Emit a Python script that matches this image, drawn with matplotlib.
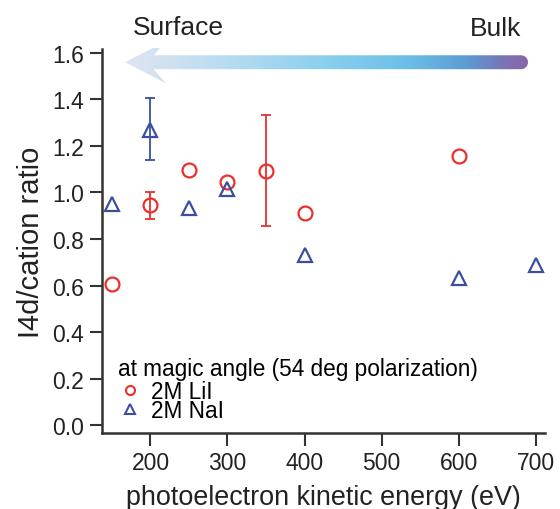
import numpy as np
import matplotlib.pyplot as plt
from matplotlib.colors import LinearSegmentedColormap
from matplotlib.patches import Polygon
from matplotlib.lines import Line2D

plt.rcParams['font.family'] = ['Liberation Sans', 'DejaVu Sans']

# 2M LiI
ke_lii = np.array([150, 200, 250, 300, 350, 400, 600])
ratio_lii = np.array([0.605, 0.945, 1.095, 1.045, 1.093, 0.912, 1.157])
err_lo_lii = np.array([0, 0.06, 0, 0, 0.238, 0, 0])
err_hi_lii = np.array([0, 0.055, 0, 0, 0.24, 0, 0])

# 2M NaI
ke_nai = np.array([150, 200, 250, 300, 400, 600, 700])
ratio_nai = np.array([0.952, 1.27, 0.935, 1.015, 0.732, 0.632, 0.69])
err_lo_nai = np.array([0, 0.132, 0, 0, 0, 0, 0])
err_hi_nai = np.array([0, 0.135, 0, 0, 0, 0, 0])

yticks = [0.0, 0.2, 0.4, 0.6, 0.8, 1.0, 1.2, 1.4, 1.6]
xticks = [200, 300, 400, 500, 600, 700]

red = '#e8302c'
blue = '#3c4ea0'
axcol = '#333333'
txtcol = '#222222'

fig = plt.figure(figsize=(5.6, 5.1), dpi=100)
ax = fig.add_axes([0.182, 0.149, 0.791, 0.753])


def draw_series(x, y, lo, hi, marker, color):
    m = (lo > 0) | (hi > 0)
    ax.errorbar(x[m], y[m], yerr=[lo[m], hi[m]], fmt='none', ecolor=color,
                elinewidth=1.3, capsize=3.5, capthick=1.3)
    ax.plot(x, y, ls='none', marker=marker, ms=10, mfc='none', mec=color, mew=1.6)


draw_series(ke_lii, ratio_lii, err_lo_lii, err_hi_lii, 'o', red)
draw_series(ke_nai, ratio_nai, err_lo_nai, err_hi_nai, '^', blue)

ax.set_xlim(137, 712)
ax.set_ylim(-0.034, 1.617)
ax.set_xticks(xticks)
ax.set_yticks(yticks)
ax.set_yticklabels(['%.1f' % v for v in yticks])
ax.tick_params(direction='out', length=9, width=1.5, color=axcol,
               labelsize=16.5, labelcolor=txtcol, pad=4)
for s in ['top', 'right']:
    ax.spines[s].set_visible(False)
for s in ['left', 'bottom']:
    ax.spines[s].set_linewidth(1.8)
    ax.spines[s].set_color(axcol)

ax.set_xlabel('photoelectron kinetic energy (eV)', fontsize=19.4, color=txtcol, labelpad=7)
ax.set_ylabel('I4d/cation ratio', fontsize=21, color=txtcol, labelpad=5)

handles = [Line2D([], [], ls='none', marker='o', ms=6.5, mfc='none', mec=red, mew=1.5),
           Line2D([], [], ls='none', marker='^', ms=6.5, mfc='none', mec=blue, mew=1.5)]
leg = ax.legend(handles, ['2M LiI', '2M NaI'], loc='lower left',
                bbox_to_anchor=(0.0, -0.013), frameon=False,
                fontsize=16.3, handlelength=1.1, handletextpad=0.35,
                borderaxespad=0.3, labelspacing=-0.15,
                title='at magic angle (54 deg polarization)', title_fontsize=16.3)
leg._legend_box.align = 'left'
leg._legend_box.sep = 0

# gradient arrow, surface <- bulk
yc = 1.56
tip, barb, notch, end = 167, 220, 204, 681
hh, sh = 0.09, 0.03
rx = 9.1
theta = np.linspace(np.pi / 2, -np.pi / 2, 20)
cap = [(end + rx * np.cos(t), yc + sh * np.sin(t)) for t in theta]
verts = [(tip, yc), (barb, yc + hh), (notch, yc + sh)] + cap + \
        [(notch, yc - sh), (barb, yc - hh)]
poly = Polygon(verts, closed=True, facecolor='none', edgecolor='none',
               transform=ax.transData)
ax.add_patch(poly)
cmap = LinearSegmentedColormap.from_list('sb', [
    (0.0, '#e0e5ef'), (0.25, '#b8dcf1'), (0.5, '#8acfee'), (0.7, '#6cbfe8'),
    (0.85, '#5c9bd3'), (0.93, '#7479b8'), (1.0, '#8b64aa')])
grad = np.linspace(0, 1, 256).reshape(1, -1)
im = ax.imshow(grad, cmap=cmap, aspect='auto', extent=[tip, end + rx, yc - hh, yc + hh],
               zorder=3, interpolation='bilinear')
im.set_clip_path(poly)
im.set_clip_box(None)
ax.set_xlim(137, 712)
ax.set_ylim(-0.034, 1.617)

ax.text(177, 1.712, 'Surface', fontsize=19, color=txtcol, ha='left', va='center',
        clip_on=False)
ax.text(681, 1.707, 'Bulk', fontsize=19, color=txtcol, ha='right', va='center',
        clip_on=False)

fig.savefig('out.png', dpi=100)
